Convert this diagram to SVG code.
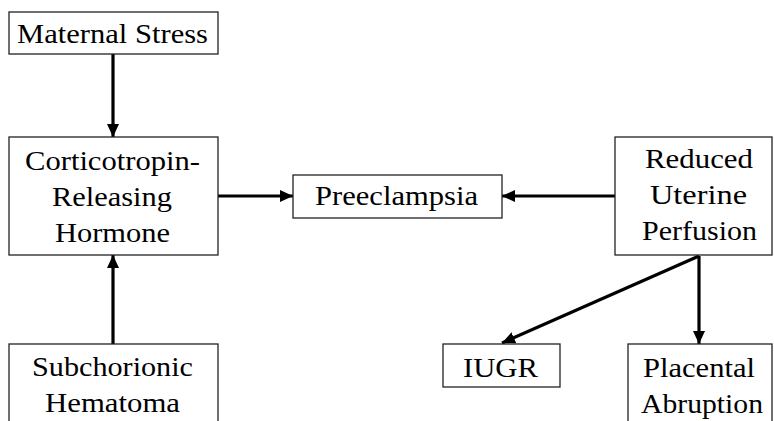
<svg xmlns="http://www.w3.org/2000/svg" width="774" height="421" viewBox="0 0 774 421">
  <defs>
    <marker id="arrow" markerUnits="userSpaceOnUse" markerWidth="14" markerHeight="13" refX="13" refY="6" orient="auto">
      <path d="M0,0 L13,6 L0,12 Z" fill="#000"/>
    </marker>
    <style>
      .box { fill: #fff; stroke: #222; stroke-width: 1.3; }
      .lbl { font-family: 'Times New Roman', Times, 'Liberation Serif', 'DejaVu Serif', 'Noto Serif', serif; font-size: 27px; fill: #000; }
      .edge { stroke: #000; stroke-width: 3.2; fill: none; marker-end: url(#arrow); }
    </style>
  </defs>
  <rect width="774" height="421" fill="#fff"/>

  <g id="connectors">
    <line class="edge" x1="113" y1="54" x2="113" y2="137"/>
    <line class="edge" x1="113" y1="344" x2="113" y2="255"/>
    <line class="edge" x1="218" y1="196" x2="293" y2="196"/>
    <line class="edge" x1="615" y1="196" x2="502" y2="196"/>
    <line class="edge" x1="699" y1="256" x2="502" y2="343"/>
    <line class="edge" x1="699" y1="256" x2="699" y2="344"/>
  </g>

  <g id="maternal-stress">
    <rect class="box" x="9" y="12" width="209" height="42"/>
    <text class="lbl" x="17" y="43" textLength="191" lengthAdjust="spacingAndGlyphs">Maternal Stress</text>
  </g>

  <g id="crh">
    <rect class="box" x="9" y="137" width="209" height="118"/>
    <text class="lbl" x="25" y="170" textLength="175" lengthAdjust="spacingAndGlyphs">Corticotropin-</text>
    <text class="lbl" x="52" y="206" textLength="120" lengthAdjust="spacingAndGlyphs">Releasing</text>
    <text class="lbl" x="55" y="242" textLength="115" lengthAdjust="spacingAndGlyphs">Hormone</text>
  </g>

  <g id="subchorionic-hematoma">
    <rect class="box" x="9" y="344" width="209" height="90"/>
    <text class="lbl" x="32" y="376" textLength="161" lengthAdjust="spacingAndGlyphs">Subchorionic</text>
    <text class="lbl" x="45" y="412" textLength="135" lengthAdjust="spacingAndGlyphs">Hematoma</text>
  </g>

  <g id="preeclampsia">
    <rect class="box" x="293" y="175" width="209" height="43"/>
    <text class="lbl" x="315" y="205" textLength="163" lengthAdjust="spacingAndGlyphs">Preeclampsia</text>
  </g>

  <g id="reduced-uterine-perfusion">
    <rect class="box" x="615" y="137" width="157" height="118"/>
    <text class="lbl" x="645" y="168" textLength="108" lengthAdjust="spacingAndGlyphs">Reduced</text>
    <text class="lbl" x="650" y="204" textLength="97" lengthAdjust="spacingAndGlyphs">Uterine</text>
    <text class="lbl" x="642" y="240" textLength="115" lengthAdjust="spacingAndGlyphs">Perfusion</text>
  </g>

  <g id="iugr">
    <rect class="box" x="443" y="344" width="117" height="43"/>
    <text class="lbl" x="463" y="377" textLength="75" lengthAdjust="spacingAndGlyphs">IUGR</text>
  </g>

  <g id="placental-abruption">
    <rect class="box" x="628" y="344" width="144" height="90"/>
    <text class="lbl" x="643" y="377" textLength="112" lengthAdjust="spacingAndGlyphs">Placental</text>
    <text class="lbl" x="641" y="413" textLength="122" lengthAdjust="spacingAndGlyphs">Abruption</text>
  </g>
</svg>
